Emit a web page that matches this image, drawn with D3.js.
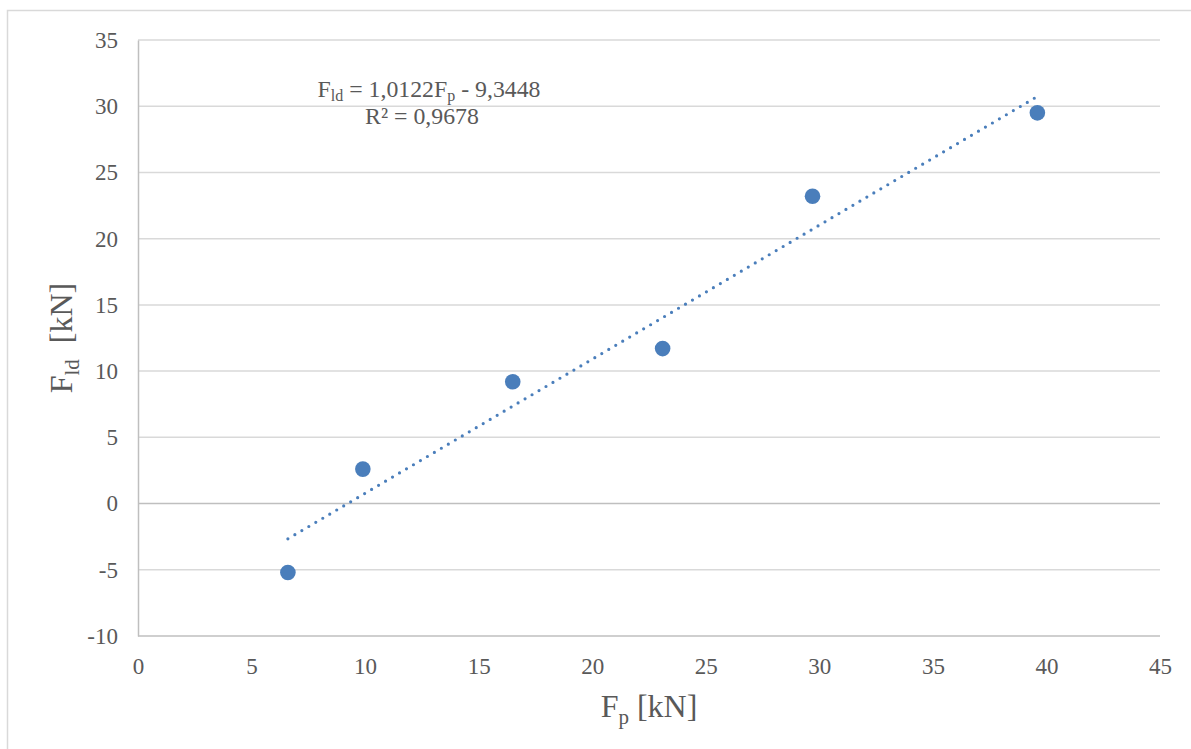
<!DOCTYPE html>
<html>
<head>
<meta charset="utf-8">
<script src="https://cdn.jsdelivr.net/npm/d3@7"></script>
<style>
  html, body { margin: 0; padding: 0; background: #fff; }
  svg { display: block; }
  svg text { font-family: "Liberation Serif", "Times New Roman", serif !important; fill: #595959; white-space: pre; }
</style>
</head>
<body>
<svg id="chart" width="1191" height="749"></svg>
<script>
// ---- data ----
const fp  = [6.6, 9.9, 16.5, 23.1, 29.7, 39.6];     // F_p [kN]
const fld = [-5.2, 2.6, 9.2, 11.7, 23.2, 29.5];     // F_ld [kN]
const xTicks = [0, 5, 10, 15, 20, 25, 30, 35, 40, 45];
const yTicks = [-10, -5, 0, 5, 10, 15, 20, 25, 30, 35];
const trendSlope = 1.0122;
const trendIntercept = -9.3448;
const eqLine1 = ["F", "ld", " = 1,0122F", "p", " - 9,3448"];
const eqLine2 = "R² = 0,9678";

// ---- layout ----
const FONT = '"Liberation Serif", "Times New Roman", serif';
const svg = d3.select("#chart");
const W = 1191, H = 749;
const m = { left: 138, right: 1160, top: 40, bottom: 636 };

svg.append("rect").attr("width", W).attr("height", H).attr("fill", "#fff");
// outer chart border (extends past the picture on right/bottom)
svg.append("rect")
  .attr("x", 7.5).attr("y", 10.5)
  .attr("width", W + 20).attr("height", H + 20)
  .attr("fill", "none").attr("stroke", "#d9d9d9").attr("stroke-width", 1.5);

const x = d3.scaleLinear().domain([0, 45]).range([m.left, m.right]);
const y = d3.scaleLinear().domain([-10, 35]).range([m.bottom, m.top]);
const fmt = d => String(d); // hyphen-minus as in the reference

// gridlines
svg.append("g")
  .selectAll("line").data(yTicks.filter(d => d !== -10 && d !== 0)).join("line")
  .attr("x1", m.left).attr("x2", m.right)
  .attr("y1", d => y(d)).attr("y2", d => y(d))
  .attr("stroke", "#d9d9d9").attr("stroke-width", 1.5);

// zero line and bottom line
[0, -10].forEach(v => {
  svg.append("line")
    .attr("x1", m.left).attr("x2", m.right)
    .attr("y1", y(v)).attr("y2", y(v))
    .attr("stroke", "#bfbfbf").attr("stroke-width", 1.5);
});

// axes via d3
const xAxis = d3.axisBottom(x).tickValues(xTicks).tickSize(0).tickPadding(22).tickFormat(fmt);
const gx = svg.append("g").attr("transform", `translate(0,${m.bottom})`).call(xAxis)
  .attr("font-family", FONT).attr("font-size", 23);
gx.select(".domain").remove();
gx.selectAll("text").attr("fill", "#595959");

const yAxis = d3.axisLeft(y).tickValues(yTicks).tickSize(0).tickPadding(20).tickFormat(fmt);
const gy = svg.append("g").attr("transform", `translate(${m.left},0)`).call(yAxis)
  .attr("font-family", FONT).attr("font-size", 23);
gy.select(".domain").attr("stroke", "#bfbfbf").attr("stroke-width", 1.5);
gy.selectAll("text").attr("fill", "#595959");

// trendline
const xMin = d3.min(fp), xMax = d3.max(fp);
const trend = [xMin, xMax].map(v => [v, trendSlope * v + trendIntercept]);
svg.append("path")
  .datum(trend)
  .attr("d", d3.line().x(d => x(d[0])).y(d => y(d[1])))
  .attr("fill", "none")
  .attr("stroke", "#4a7ebb")
  .attr("stroke-width", 3.2)
  .attr("stroke-linecap", "round")
  .attr("stroke-dasharray", "0 8.1");

// points
svg.append("g")
  .selectAll("circle").data(fp.map((v, i) => [v, fld[i]])).join("circle")
  .attr("cx", d => x(d[0])).attr("cy", d => y(d[1]))
  .attr("r", 7.8)
  .attr("fill", "#4a7ebb");

// equation label
const eq = svg.append("text").attr("x", 429).attr("y", 97)
  .attr("text-anchor", "middle").attr("font-size", 23.8);
eq.append("tspan").text(eqLine1[0]);
eq.append("tspan").attr("dy", 4).attr("font-size", 16).text(eqLine1[1]);
eq.append("tspan").attr("dy", -4).text(eqLine1[2]);
eq.append("tspan").attr("dy", 4).attr("font-size", 16).text(eqLine1[3]);
eq.append("tspan").attr("dy", -4).text(eqLine1[4]);
svg.append("text").attr("x", 422).attr("y", 123.5)
  .attr("text-anchor", "middle").attr("font-size", 23.8).text(eqLine2);

// x axis title
const xt = svg.append("text").attr("x", (m.left + m.right) / 2).attr("y", 717)
  .attr("text-anchor", "middle").attr("font-size", 32);
xt.append("tspan").text("F");
xt.append("tspan").attr("dy", 7).attr("font-size", 21).text("p");
xt.append("tspan").attr("dy", -7).text(" [kN]");

// y axis title
const yt = svg.append("text")
  .attr("transform", `translate(72,${(m.top + m.bottom) / 2}) rotate(-90)`)
  .attr("text-anchor", "middle").attr("font-size", 32);
yt.append("tspan").text("F");
yt.append("tspan").attr("dy", 7).attr("font-size", 21).text("ld");
yt.append("tspan").attr("dy", -7).text("  [kN]");
</script>
</body>
</html>
